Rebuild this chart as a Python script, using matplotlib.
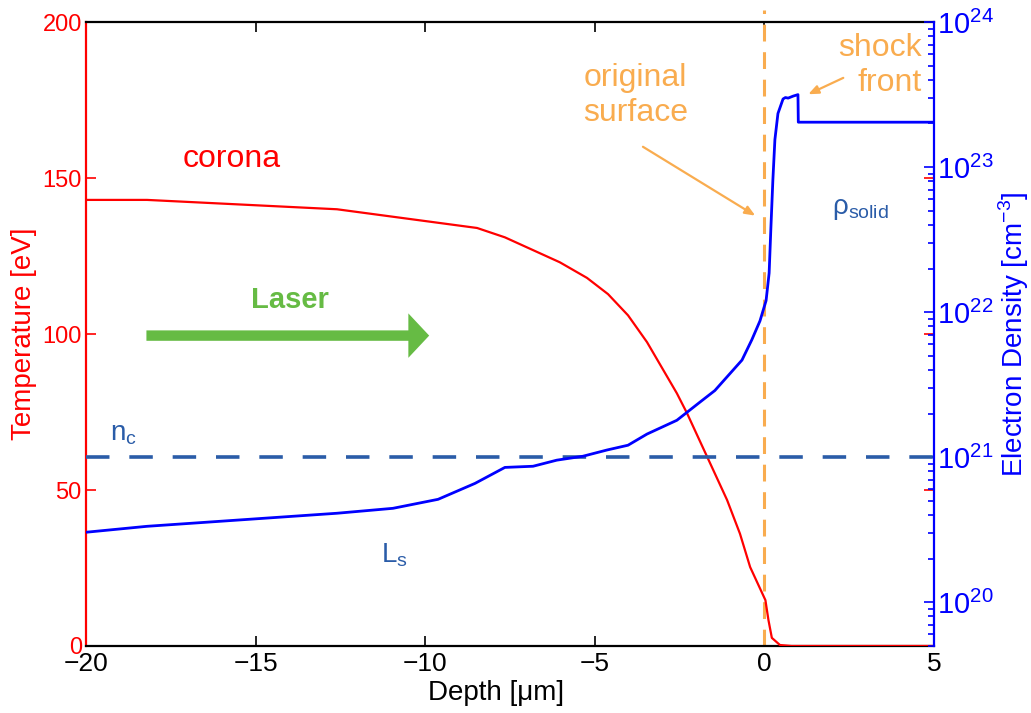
import numpy as np
import matplotlib
matplotlib.use('Agg')
from matplotlib import pyplot as plt
from matplotlib.ticker import LogLocator, NullFormatter

plt.rcParams['font.family'] = ['Liberation Sans', 'DejaVu Sans']
plt.rcParams['mathtext.fontset'] = 'custom'
plt.rcParams['mathtext.rm'] = 'Liberation Sans'

# temperature profile [eV] vs depth [um]
temp_x = [-20, -18.2, -12.6, -8.47, -7.65, -6.03, -5.23, -4.61, -4.02, -3.46,
          -2.58, -2.28, -1.66, -1.10, -0.72, -0.42, 0.03, 0.12, 0.22, 0.46, 0.8, 5]
temp_y = [143, 143, 140, 134, 131, 123, 118, 112.8, 106, 97.4,
          81, 74.6, 60, 46.8, 36, 25.3, 14.7, 8.3, 2.6, 0.3, 0.0, 0.0]

# electron density profile, log10(n [cm^-3])
dens_x = [-20, -18.2, -12.6, -10.95, -9.62, -8.53, -7.65, -6.82, -6.12, -5.35,
          -4.64, -4.02, -3.46, -2.58, -1.9, -1.46, -0.66, -0.37, -0.13, 0.05,
          0.14, 0.19, 0.25, 0.31, 0.40, 0.55, 0.62, 0.70, 0.85, 0.99, 1.0, 5]
dens_log = [20.483, 20.524, 20.614, 20.648, 20.71, 20.82, 20.93, 20.938, 20.98, 21.007,
            21.05, 21.083, 21.16, 21.255, 21.38, 21.46, 21.67, 21.81, 21.94, 22.08,
            22.27, 22.57, 22.91, 23.19, 23.37, 23.47, 23.48, 23.476, 23.49, 23.50, 23.31, 23.31]

n_crit = 1e21
orig_surface = 0.0

RED = '#ff0000'
BLUE = '#0000ff'
DBLUE = '#2a5ca8'
ORANGE = '#f9ac4f'
GREEN = '#66bb44'


def main():
    fig = plt.figure(figsize=(10.31, 7.13), dpi=100)
    ax = fig.add_axes([0.0834, 0.094, 0.8225, 0.875])
    ax2 = ax.twinx()

    ax.plot(temp_x, temp_y, color=RED, lw=1.6, zorder=3)
    ax2.plot(dens_x, 10 ** np.array(dens_log), color=BLUE, lw=2.0, zorder=3)
    ax2.axhline(n_crit, color=DBLUE, lw=2.6, dashes=(6.5, 5.5), zorder=2)
    ax.axvline(orig_surface, ymax=1.02, color=ORANGE, lw=2.2, dashes=(5.5, 3.5),
               zorder=2, clip_on=False)

    ax.set_xlim(-20, 5)
    ax.set_ylim(0, 200)
    ax2.set_yscale('log')
    ax2.set_ylim(5e19, 1e24)

    ax.set_xticks([-20, -15, -10, -5, 0, 5])
    ax.set_xticklabels(['\u221220', '\u221215', '\u221210', '\u22125', '0', '5'])
    ax.set_yticks([0, 50, 100, 150, 200])
    ax.tick_params(axis='x', direction='in', top=True, length=7, width=1.2,
                   labelsize=19, colors='black', pad=4)
    ax.tick_params(axis='y', direction='in', right=True, length=7, width=1.2,
                   labelsize=17, colors=RED, pad=3)
    ax2.yaxis.set_major_locator(LogLocator(base=10, numticks=10))
    ax2.yaxis.set_minor_locator(LogLocator(base=10, subs=np.arange(2, 10), numticks=10))
    ax2.yaxis.set_minor_formatter(NullFormatter())
    ax2.tick_params(axis='y', which='major', direction='in', length=7, width=1.2,
                    labelsize=21, colors=BLUE, pad=2)
    ax2.tick_params(axis='y', which='minor', direction='in', length=4, width=1.2,
                    colors=BLUE)

    for a in (ax, ax2):
        for s in a.spines.values():
            s.set_linewidth(1.6)
    ax.spines['left'].set_color(RED)
    ax.spines['right'].set_visible(False)
    ax2.spines['left'].set_visible(False)
    ax2.spines['right'].set_color(BLUE)
    ax2.spines['top'].set_visible(False)
    ax2.spines['bottom'].set_visible(False)

    ax.set_xlabel('Depth [\u03bcm]', fontsize=20)
    ax.xaxis.set_label_coords(0.483, -0.055)
    ax.set_ylabel('Temperature [eV]', fontsize=20, color=RED, labelpad=4)
    ax2.set_ylabel('Electron Density [cm$^{\u22123}$]', fontsize=20, color=BLUE, labelpad=2)

    # annotations
    ax.text(-15.7, 156, 'corona', color=RED, fontsize=23, ha='center', va='center')
    ax.text(-14.0, 111, 'Laser', color=GREEN, fontsize=21, ha='center', va='center',
            fontweight='bold')
    ax.annotate('', xy=(-9.8, 99.5), xytext=(-18.3, 99.5),
                arrowprops=dict(arrowstyle='simple,head_width=3.2,head_length=1.5,tail_width=0.75',
                                color=GREEN, lw=0))
    ax.text(-19.3, 68, '$\\mathregular{n_c}$', color=DBLUE, fontsize=20, ha='left', va='center')
    ax.text(-11.3, 29, '$\\mathregular{L_s}$', color=DBLUE, fontsize=20, ha='left', va='center')
    ax.text(2.0, 140, '$\\mathregular{\u03c1_{solid}}$', color=DBLUE, fontsize=20,
            ha='left', va='center')
    ax.text(-3.8, 176.5, 'original\nsurface', color=ORANGE, fontsize=23, ha='center',
            va='center', linespacing=1.2)
    ax.annotate('', xy=(-0.2, 137.5), xytext=(-3.65, 160.5),
                arrowprops=dict(arrowstyle='-|>,head_width=0.25,head_length=0.6',
                                color=ORANGE, lw=1.6))
    ax.text(4.65, 186, 'shock\nfront', color=ORANGE, fontsize=23, ha='right',
            va='center', linespacing=1.2)
    ax.annotate('', xy=(1.22, 176.5), xytext=(2.4, 182.5),
                arrowprops=dict(arrowstyle='-|>,head_width=0.25,head_length=0.6',
                                color=ORANGE, lw=1.6))

    fig.savefig('out.png', dpi=100)


if __name__ == '__main__':
    main()
